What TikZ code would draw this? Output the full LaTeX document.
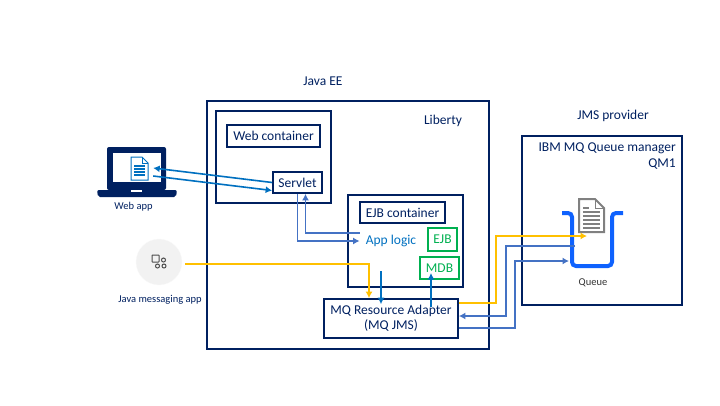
\documentclass[tikz,border=0pt]{standalone}
\usepackage{fontspec}
\setmainfont{Carlito}
\usetikzlibrary{arrows.meta}
\definecolor{navy}{HTML}{002060}
\definecolor{webblue}{HTML}{0070C0}
\definecolor{linkblue}{HTML}{4472C4}
\definecolor{msgyellow}{HTML}{FFC000}
\definecolor{mdbgreen}{HTML}{00B050}
\definecolor{queueblue}{HTML}{0F62FE}
\definecolor{docgray}{HTML}{808080}
\tikzset{
    box/.style={draw=navy, line width=1.7pt, inner sep=0pt, text=navy, font=\fontsize{13.5}{15}\selectfont, align=center},
    greenbox/.style={draw=mdbgreen, line width=1.7pt, inner sep=0pt, text=mdbgreen, font=\fontsize{13.5}{15}\selectfont},
    label/.style={text=navy, inner sep=0pt, font=\fontsize{13.5}{15.5}\selectfont},
    small/.style={text=navy, inner sep=0pt, font=\fontsize{10.5}{12}\selectfont},
    webflow/.style={webblue, line width=1.6pt, -{Latex[length=6.5pt,width=7pt]}},
    linkflow/.style={linkblue, line width=1.6pt, -{Latex[length=6.5pt,width=7pt]}},
    msgflow/.style={msgyellow, line width=1.6pt, -{Latex[length=6.5pt,width=7pt]}}
}
\begin{document}
\begin{tikzpicture}[x=1pt, y=-1pt]
    \useasboundingbox (0,0) rectangle (720,405);

    % Titles
    \node[label] (javaee) at (323,81) {Java EE};
    \node[label] (jmstitle) at (613,116) {JMS provider};

    % Liberty server and containers
    \node[box, minimum width=282pt, minimum height=248pt] (liberty) at (348,225) {};
    \node[label] (libertytitle) at (443,121) {Liberty};
    \node[box, minimum width=115pt, minimum height=92pt] (webouter) at (273.5,157) {};
    \node[box, minimum width=93pt, minimum height=22pt] (webcontainer) at (273.5,136) {Web container};
    \node[box, minimum width=49pt, minimum height=21pt] (servlet) at (297.5,182.5) {Servlet};
    \node[box, minimum width=115pt, minimum height=92pt] (ejbouter) at (405.5,241) {};
    \node[box, minimum width=85pt, minimum height=21pt] (ejbcontainer) at (402.5,212.5) {EJB container};
    \node[text=webblue, inner sep=6pt, font=\fontsize{13.5}{15}\selectfont] (applogic) at (391,241) {App logic};
    \node[greenbox, minimum width=29pt, minimum height=23pt] (ejb) at (442.5,239.5) {EJB};
    \node[greenbox, minimum width=39pt, minimum height=22pt] (mdb) at (439.5,268) {MDB};
    \node[box, minimum width=134pt, minimum height=39pt] (adapter) at (391,318.5) {MQ Resource Adapter\\(MQ JMS)};

    % JMS provider
    \node[box, minimum width=160pt, minimum height=169pt] (provider) at (602,220.5) {};
    \node[label, anchor=north east, align=right] (qmtitle) at (676,143) {IBM MQ Queue manager\\QM1};

    % Queue
    \draw[queueblue, line width=4pt, rounded corners=4pt] (562,213) -- (572,213) -- (572,266) -- (612,266) -- (612,213) -- (623,213);
    \node[inner sep=0pt, minimum width=27pt, minimum height=34pt] (queuedoc) at (591.5,215) {};
    \draw[docgray, fill=white, line width=2pt] (579,199) -- (595,199) -- (604,208) -- (604,232) -- (579,232) -- cycle;
    \draw[docgray, line width=1pt] (595,199) -- (595,208) -- (604,208);
    \foreach \y in {212,216,220,224,228} {
        \draw[docgray, line width=1.2pt] (583,\y) -- (600,\y);
    }
    \draw[docgray, line width=1.2pt] (583,208) -- (589,208);
    \node[small, text=black!80] (queuelabel) at (593,283) {Queue};

    % Laptop
    \node[fill=navy, rounded corners=2pt, inner sep=0pt, minimum width=59pt, minimum height=43pt] (laptop) at (136.5,168.5) {};
    \fill[white] (113,153) rectangle (161,182);
    \fill[navy, rounded corners=2pt] (97,190) -- (177,190) -- (176,197) -- (98,197) -- cycle;
    \fill[white] (131,190) rectangle (142,191.5);
    \node[inner sep=0pt, minimum width=17pt, minimum height=23pt] (webdoc) at (139.5,168.5) {};
    \draw[webblue, fill=white, line width=1pt] (131,157) -- (142,157) -- (148,163) -- (148,180) -- (131,180) -- cycle;
    \draw[webblue, line width=.8pt] (142,157) -- (142,163) -- (148,163);
    \foreach \y in {166,169,172,175} {
        \draw[webblue, line width=1.5pt] (134,\y) -- (145,\y);
    }
    \node[small] (webapp) at (133.5,207) {Web app};

    % Java messaging app
    \node[circle, fill=black!5, draw=black!2, inner sep=0pt, minimum size=46pt] (javaapp) at (159,262) {};
    \draw[black!70, line width=1pt, rounded corners=.5pt] (152,255) rectangle (159,262);
    \foreach \x/\y in {163.5/260, 157.5/266, 164/266} {
        \draw[black!70, line width=1pt] (\x,\y) circle (2pt);
    }
    \node[small] (javalabel) at (160,300) {Java messaging app};

    % Web app and servlet
    \draw[webflow] (servlet.west) -- ([xshift=5pt]webdoc.east |- 0,168);
    \draw[webflow] ([xshift=5pt]webdoc.east |- 0,176) -- ([yshift=-8pt]servlet.west);

    % Servlet and app logic
    \draw[linkflow] (servlet.south) |- (applogic.west);
    \draw[linkflow] ([yshift=8pt]applogic.west) -| ([xshift=8pt]servlet.south);

    % Messages into the adapter
    \draw[msgflow] (javaapp.east) ++(3,2) -| ([xshift=-22pt]adapter.north);
    \draw[webflow] (381,271) -- ([xshift=-10pt,yshift=-6pt]adapter.north);
    \draw[webflow] (431,307) -- ([xshift=-8.5pt,yshift=-5pt]mdb.center);

    % Adapter and queue
    \coordinate (queuein) at (587,236);
    \coordinate (queueout) at (575,246);
    \coordinate (queueback) at (569,261);
    \draw[msgflow] ([yshift=15.5pt]adapter.east) -| (496,236) -- (queuein);
    \draw[linkflow] (queueout) -| (506,316) -- ([yshift=2.5pt]adapter.east);
    \draw[linkflow] ([yshift=-9.5pt]adapter.east) -| (515,261) -- (queueback);
\end{tikzpicture}
\end{document}
